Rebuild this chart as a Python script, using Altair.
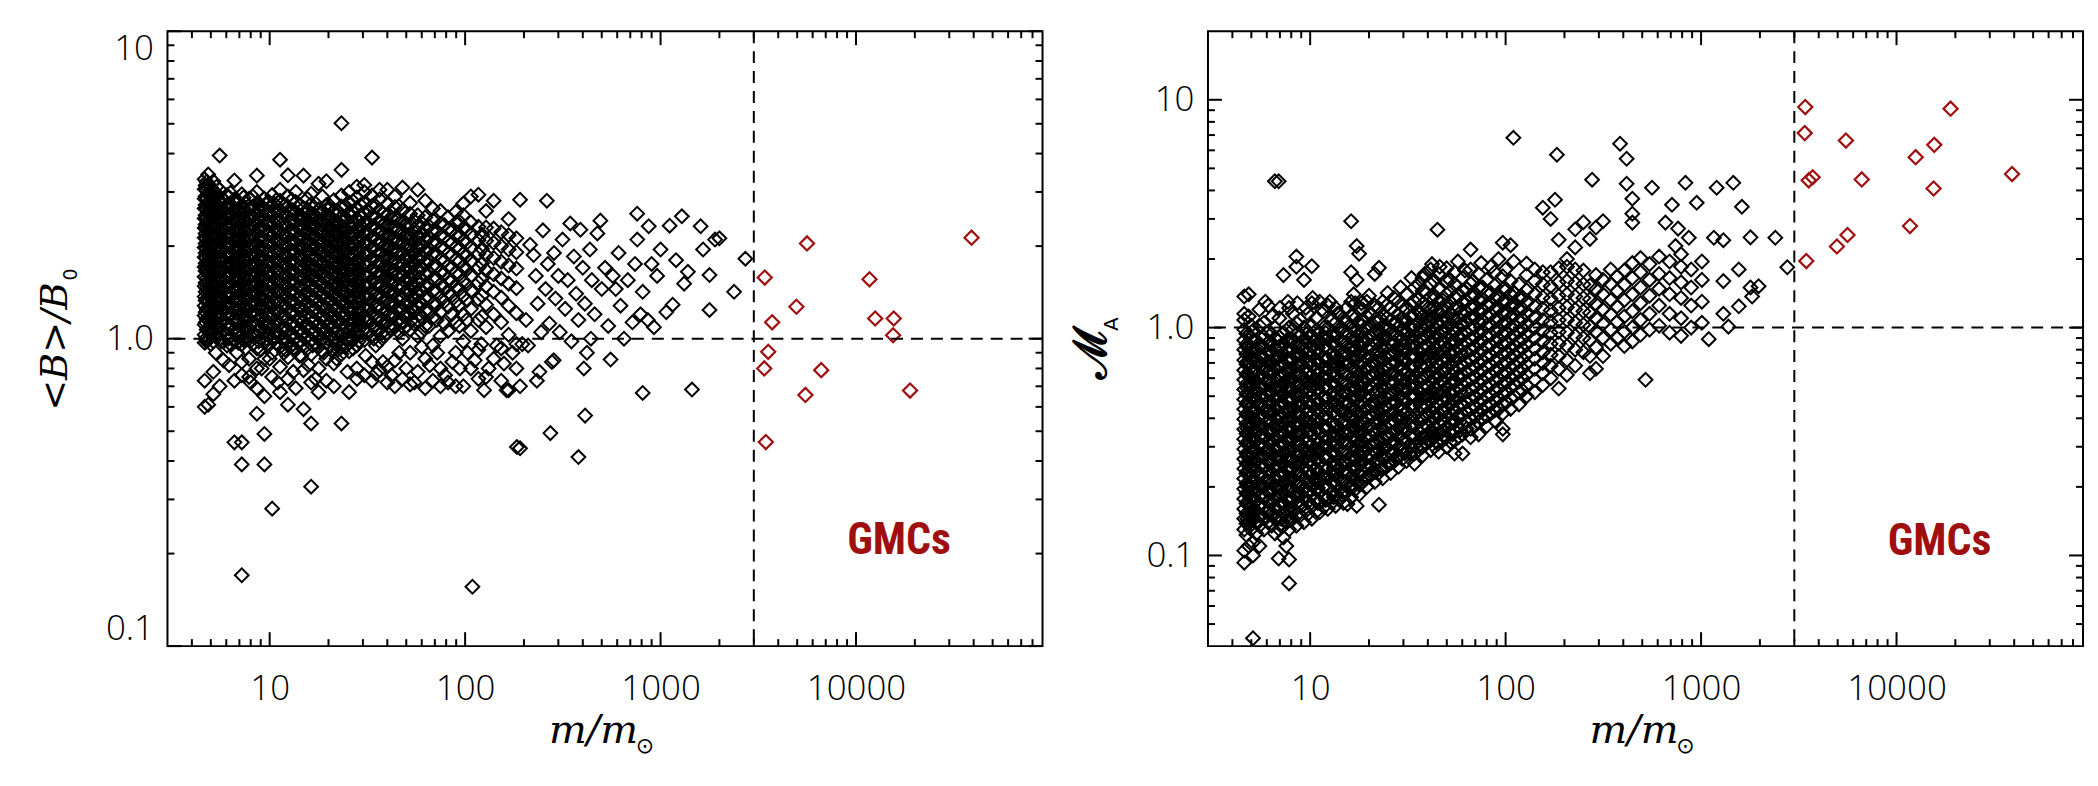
import altair as alt
import pandas as pd

# ---------------- axes / ticks ----------------
X_DOMAIN = [3, 90000]
LEFT_Y_DOMAIN = [0.1, 10]
RIGHT_Y_DOMAIN = [0.04, 20]
X_LABELS = [10, 100, 1000, 10000]
X_MAJOR = [10, 100, 1000, 10000]
X_MINOR = [4, 5, 6, 7, 8, 9, 20, 30, 40, 50, 60, 70, 80, 90,
           200, 300, 400, 500, 600, 700, 800, 900,
           2000, 3000, 4000, 5000, 6000, 7000, 8000, 9000,
           20000, 30000, 40000, 50000, 60000, 70000, 80000]
Y_LABELS = [0.1, 1, 10]
LEFT_Y_MINOR = [0.2, 0.3, 0.4, 0.5, 0.6, 0.7, 0.8, 0.9, 2, 3, 4, 5, 6, 7, 8, 9]
RIGHT_Y_MINOR = [0.05, 0.06, 0.07, 0.08, 0.09, 0.2, 0.3, 0.4, 0.5, 0.6, 0.7, 0.8, 0.9,
                 2, 3, 4, 5, 6, 7, 8, 9]

# ---------------- GMCs (red) ----------------
GMC_M = [3413, 3392, 3455, 5614, 5510, 3724, 4955, 3555, 6640, 11720, 12530, 15600, 15480, 18900, 39000]
GMC_B = [1.58, 0.80, 0.461, 2.04, 0.656, 1.13, 1.27, 0.906, 0.79, 1.56, 1.163, 1.163, 1.026, 0.678, 2.13]
GMC_MA = [9.29, 7.14, 1.96, 2.55, 6.62, 4.57, 2.27, 4.43, 4.47, 2.79, 5.60, 6.34, 4.08, 9.14, 4.72]

# ---------------- left panel: <B>/B0 (black) ----------------
LEFT_COLUMNS = [
    (4.65, [0.60, 0.73, 0.97, 1.03, 1.11, 1.19, 1.28, 1.37, 1.48, 1.59, 1.71, 1.84, 1.98, 2.13, 2.29, 2.46, 2.65, 2.85, 3.06, 3.3]),
    (4.85, [0.61, 0.99, 1.07, 1.15, 1.24, 1.33, 1.43, 1.54, 1.65, 1.78, 1.91, 2.06, 2.21, 2.38, 2.56, 2.75, 2.96, 3.18, 3.42]),
    (5.15, [0.66, 0.78, 0.98, 1.05, 1.13, 1.22, 1.31, 1.41, 1.51, 1.63, 1.75, 1.88, 2.02, 2.17, 2.34, 2.51, 2.70, 2.91, 3.25]),
    (5.55, [0.70, 1.0, 1.09, 1.17, 1.26, 1.36, 1.46, 1.57, 1.69, 1.82, 1.96, 2.1, 2.26, 2.43, 2.62, 2.82, 3.05, 3.94]),
    (6.05, [0.95, 1.03, 1.12, 1.21, 1.3, 1.4, 1.51, 1.63, 1.75, 1.88, 2.03, 2.18, 2.35, 2.53, 2.72, 2.93]),
    (6.6, [0.46, 0.73, 0.98, 1.07, 1.16, 1.25, 1.35, 1.45, 1.57, 1.69, 1.82, 1.96, 2.11, 2.27, 2.45, 2.64, 2.84, 3.27]),
    (7.2, [0.17, 0.39, 0.46, 0.76, 0.84, 0.96, 1.03, 1.11, 1.2, 1.29, 1.39, 1.5, 1.61, 1.74, 1.87, 2.02, 2.17, 2.34, 2.52, 2.71, 2.95]),
    (7.85, [0.75, 0.86, 1.0, 1.08, 1.16, 1.25, 1.35, 1.45, 1.56, 1.68, 1.81, 1.95, 2.1, 2.26, 2.44, 2.63, 2.85]),
    (8.6, [0.57, 0.69, 0.8, 0.93, 1.02, 1.11, 1.2, 1.3, 1.4, 1.51, 1.63, 1.76, 1.9, 2.04, 2.2, 2.37, 2.56, 2.76, 3.0, 3.39]),
    (9.4, [0.39, 0.49, 0.65, 0.86, 0.97, 1.05, 1.14, 1.24, 1.34, 1.44, 1.56, 1.68, 1.81, 1.95, 2.1, 2.26, 2.44, 2.63, 2.85]),
    (10.3, [0.28, 0.75, 0.9, 1.0, 1.09, 1.18, 1.28, 1.38, 1.49, 1.6, 1.73, 1.86, 2.01, 2.16, 2.33, 2.51, 2.71, 2.93]),
    (11.3, [0.67, 0.81, 0.94, 1.03, 1.12, 1.22, 1.32, 1.43, 1.54, 1.66, 1.79, 1.93, 2.08, 2.24, 2.42, 2.61, 2.81, 3.05, 3.82]),
    (12.4, [0.61, 0.74, 0.87, 0.98, 1.07, 1.16, 1.26, 1.36, 1.47, 1.59, 1.71, 1.84, 1.99, 2.14, 2.31, 2.49, 2.69, 2.9, 3.4]),
    (13.6, [0.69, 0.92, 1.01, 1.1, 1.2, 1.3, 1.41, 1.52, 1.64, 1.77, 1.91, 2.06, 2.22, 2.39, 2.58, 2.78, 3.0]),
    (14.9, [0.59, 0.79, 0.96, 1.05, 1.14, 1.24, 1.34, 1.45, 1.57, 1.69, 1.82, 1.97, 2.12, 2.29, 2.47, 2.66, 3.39]),
    (16.3, [0.33, 0.53, 0.72, 0.89, 0.99, 1.08, 1.17, 1.27, 1.38, 1.49, 1.61, 1.74, 1.88, 2.02, 2.18, 2.35, 2.54, 2.74, 2.96]),
    (17.8, [0.67, 0.8, 0.94, 1.03, 1.12, 1.22, 1.32, 1.43, 1.55, 1.67, 1.8, 1.94, 2.1, 2.26, 2.44, 2.63, 3.19]),
    (19.5, [0.73, 0.86, 0.97, 1.06, 1.16, 1.26, 1.36, 1.47, 1.59, 1.72, 1.86, 2.0, 2.16, 2.33, 2.52, 2.72, 3.25]),
    (21.3, [0.7, 0.83, 0.92, 0.99, 1.09, 1.19, 1.29, 1.4, 1.52, 1.64, 1.77, 1.91, 2.07, 2.23, 2.41, 2.6, 2.82]),
    (23.3, [0.53, 0.89, 0.94, 1.02, 1.12, 1.22, 1.33, 1.44, 1.56, 1.69, 1.83, 1.98, 2.14, 2.31, 2.49, 2.69, 2.92, 3.54, 5.02]),
    (25.5, [0.67, 0.91, 0.97, 1.06, 1.16, 1.26, 1.37, 1.49, 1.61, 1.74, 1.88, 2.03, 2.2, 2.37, 2.56, 2.77, 3.0]),
    (27.9, [0.8, 0.95, 1.03, 1.11, 1.21, 1.31, 1.42, 1.54, 1.67, 1.8, 1.95, 2.11, 2.28, 2.46, 2.66, 2.88, 3.12]),
    (30.5, [0.76, 0.99, 1.08, 1.17, 1.27, 1.38, 1.49, 1.61, 1.74, 1.88, 2.03, 2.19, 2.37, 2.56, 2.76, 3.0, 3.16]),
    (33.4, [0.73, 0.84, 1.02, 1.12, 1.22, 1.33, 1.44, 1.56, 1.69, 1.83, 1.98, 2.14, 2.31, 2.5, 2.7, 2.92, 3.88]),
    (36.5, [0.79, 0.98, 1.07, 1.17, 1.28, 1.39, 1.51, 1.63, 1.77, 1.91, 2.07, 2.24, 2.42, 2.62, 2.84, 3.05]),
    (40.0, [0.72, 0.81, 1.04, 1.13, 1.23, 1.34, 1.46, 1.58, 1.71, 1.85, 2.0, 2.16, 2.34, 2.53, 2.74, 3.05]),
    (43.7, [0.7, 0.85, 1.09, 1.19, 1.3, 1.41, 1.53, 1.66, 1.8, 1.95, 2.11, 2.28, 2.47, 2.68, 2.9]),
    (47.8, [0.74, 1.0, 1.14, 1.25, 1.36, 1.48, 1.61, 1.75, 1.9, 2.06, 2.23, 2.41, 2.61, 3.1]),
    (52.3, [0.71, 0.9, 1.07, 1.2, 1.31, 1.43, 1.56, 1.7, 1.85, 2.0, 2.17, 2.35, 2.55, 2.76]),
    (57.2, [0.78, 1.02, 1.15, 1.27, 1.39, 1.52, 1.66, 1.81, 1.97, 2.14, 2.32, 2.52, 3.05]),
    (62.5, [0.69, 0.86, 1.1, 1.23, 1.35, 1.48, 1.62, 1.77, 1.93, 2.1, 2.28, 2.48, 2.81]),
    (68.4, [0.73, 0.95, 1.17, 1.3, 1.43, 1.57, 1.72, 1.88, 2.05, 2.23, 2.43, 2.65]),
    (74.8, [0.7, 0.8, 1.02, 1.22, 1.36, 1.5, 1.65, 1.81, 1.98, 2.16, 2.36, 2.6]),
    (81.8, [0.72, 1.06, 1.27, 1.41, 1.56, 1.72, 1.89, 2.07, 2.27, 2.48]),
    (89.5, [0.7, 0.9, 1.13, 1.32, 1.47, 1.63, 1.8, 1.98, 2.17, 2.38, 2.58]),
    (97.9, [0.7, 0.98, 1.2, 1.38, 1.54, 1.71, 1.89, 2.08, 2.29, 2.52, 2.75]),
    (107, [0.8, 1.06, 1.25, 1.43, 1.6, 1.78, 1.97, 2.17, 2.39, 2.9]),
    (117, [0.74, 0.92, 1.15, 1.34, 1.52, 1.7, 1.89, 2.09, 2.31, 2.94]),
    (128, [0.75, 1.09, 1.29, 1.48, 1.67, 1.87, 2.08, 2.3, 2.6]),
    (140, [0.86, 1.2, 1.42, 1.62, 1.83, 2.05, 2.28, 2.81]),
    (153, [0.73, 0.93, 1.13, 1.36, 1.57, 1.78, 2.0, 2.22]),
    (167, [0.68, 1.03, 1.28, 1.51, 1.73, 1.95, 2.17, 2.45]),
    (183, [0.8, 0.96, 1.21, 1.46, 1.69, 1.91, 2.12]),
    (191, [0.7, 0.44, 2.83]),
]
LEFT_COLUMNS_B = [
    (4.75, [0.98, 1.07, 1.16, 1.25, 1.35, 1.46, 1.57, 1.7, 1.83, 1.97, 2.12, 2.28, 2.46, 2.64, 2.84, 3.05, 3.24]),
    (5.0, [0.96, 1.03, 1.1, 1.2, 1.29, 1.39, 1.49, 1.61, 1.73, 1.86, 1.99, 2.14, 2.31, 2.48, 2.66, 2.88, 3.1]),
    (5.35, [1.01, 1.08, 1.18, 1.27, 1.37, 1.48, 1.6, 1.72, 1.85, 2.0, 2.15, 2.31, 2.5, 2.69, 2.9, 3.12]),
    (5.8, [0.98, 1.06, 1.15, 1.25, 1.34, 1.45, 1.56, 1.69, 1.81, 1.95, 2.1, 2.27, 2.44, 2.62, 2.83]),
    (6.3, [0.96, 1.02, 1.11, 1.2, 1.3, 1.41, 1.52, 1.64, 1.76, 1.9, 2.04, 2.2, 2.37, 2.55, 2.74, 2.98]),
    (6.9, [0.97, 1.07, 1.15, 1.24, 1.34, 1.44, 1.55, 1.67, 1.8, 1.94, 2.09, 2.25, 2.42, 2.61, 2.8]),
    (7.5, [0.93, 1.0, 1.07, 1.15, 1.25, 1.34, 1.44, 1.55, 1.66, 1.79, 1.93, 2.07, 2.23, 2.4, 2.58, 2.77]),
    (8.2, [0.96, 1.04, 1.12, 1.21, 1.3, 1.4, 1.5, 1.62, 1.74, 1.87, 2.01, 2.16, 2.32, 2.5, 2.69, 2.9]),
    (9.0, [0.92, 1.0, 1.09, 1.18, 1.28, 1.38, 1.49, 1.6, 1.72, 1.85, 1.99, 2.15, 2.32, 2.5, 2.72]),
    (9.85, [0.95, 1.03, 1.12, 1.21, 1.31, 1.42, 1.53, 1.65, 1.78, 1.91, 2.06, 2.22, 2.4, 2.58, 2.8]),
    (10.8, [0.97, 1.04, 1.13, 1.23, 1.33, 1.43, 1.55, 1.67, 1.8, 1.93, 2.08, 2.25, 2.42, 2.6, 2.82]),
    (11.85, [0.9, 0.98, 1.07, 1.17, 1.27, 1.37, 1.48, 1.6, 1.73, 1.86, 2.0, 2.16, 2.33, 2.52, 2.7]),
    (13.0, [0.95, 1.03, 1.12, 1.22, 1.32, 1.42, 1.54, 1.66, 1.79, 1.93, 2.08, 2.25, 2.43, 2.62, 2.83]),
    (14.2, [0.88, 0.98, 1.06, 1.15, 1.25, 1.36, 1.47, 1.59, 1.72, 1.85, 2.0, 2.16, 2.33, 2.51, 2.72]),
    (15.6, [0.93, 1.02, 1.11, 1.21, 1.31, 1.42, 1.54, 1.66, 1.79, 1.94, 2.09, 2.25, 2.43, 2.63, 2.85]),
    (17.0, [0.97, 1.06, 1.15, 1.25, 1.36, 1.47, 1.6, 1.72, 1.86, 2.01, 2.17, 2.35, 2.53]),
    (18.6, [0.91, 1.0, 1.09, 1.18, 1.29, 1.4, 1.51, 1.64, 1.77, 1.92, 2.07, 2.24, 2.42, 2.6, 2.9]),
    (20.4, [0.95, 1.03, 1.13, 1.23, 1.34, 1.45, 1.57, 1.7, 1.84, 1.99, 2.15, 2.32, 2.5, 2.7]),
    (22.3, [0.92, 0.97, 1.06, 1.16, 1.27, 1.38, 1.5, 1.62, 1.76, 1.9, 2.06, 2.22, 2.4, 2.6]),
    (24.4, [0.94, 1.0, 1.09, 1.2, 1.31, 1.42, 1.55, 1.68, 1.81, 1.96, 2.12, 2.29, 2.48, 2.7]),
    (26.7, [0.93, 0.99, 1.07, 1.16, 1.26, 1.37, 1.48, 1.61, 1.74, 1.88, 2.04, 2.2, 2.38, 2.58, 2.8]),
    (29.2, [1.02, 1.12, 1.22, 1.33, 1.45, 1.57, 1.7, 1.84, 1.99, 2.15, 2.33, 2.52, 2.72]),
    (31.9, [1.04, 1.14, 1.24, 1.35, 1.47, 1.6, 1.73, 1.88, 2.03, 2.2, 2.38, 2.6]),
    (34.9, [0.95, 1.07, 1.17, 1.27, 1.39, 1.51, 1.64, 1.78, 1.93, 2.09, 2.27, 2.46, 2.7]),
    (38.2, [1.02, 1.11, 1.21, 1.32, 1.44, 1.56, 1.7, 1.84, 1.99, 2.16, 2.34, 2.55]),
    (41.8, [1.08, 1.18, 1.29, 1.4, 1.52, 1.65, 1.79, 1.94, 2.1, 2.28, 2.48]),
    (45.7, [1.05, 1.15, 1.26, 1.37, 1.5, 1.63, 1.77, 1.92, 2.08, 2.26, 2.45, 2.7]),
    (50.0, [1.1, 1.2, 1.31, 1.43, 1.56, 1.7, 1.85, 2.0, 2.17, 2.36]),
    (54.7, [1.12, 1.22, 1.34, 1.46, 1.59, 1.73, 1.88, 2.04, 2.22, 2.42]),
    (59.8, [1.05, 1.17, 1.29, 1.42, 1.55, 1.69, 1.84, 2.0, 2.18, 2.38]),
    (65.4, [1.1, 1.23, 1.36, 1.5, 1.64, 1.79, 1.95, 2.13, 2.32]),
    (71.6, [1.15, 1.29, 1.42, 1.57, 1.72, 1.88, 2.05, 2.24]),
    (78.2, [1.12, 1.32, 1.47, 1.63, 1.79, 1.96, 2.14, 2.34]),
    (85.6, [1.2, 1.38, 1.54, 1.7, 1.87, 2.05, 2.25]),
    (93.6, [1.1, 1.28, 1.45, 1.62, 1.79, 1.97, 2.17, 2.4]),
    (102, [1.15, 1.33, 1.5, 1.68, 1.86, 2.05, 2.26]),
    (122, [1.18, 1.38, 1.57, 1.76, 1.96, 2.18]),
]
LEFT_COLUMNS_C = [
    (4.7, [1.0, 1.13, 1.22, 1.33, 1.42, 1.52, 1.66, 1.76, 1.9, 2.04, 2.2, 2.35, 2.52, 2.72, 2.9, 3.15]),
    (4.95, [1.05, 1.17, 1.26, 1.36, 1.5, 1.6, 1.74, 1.88, 2.01, 2.18, 2.34, 2.55, 2.7, 2.95]),
    (5.25, [1.02, 1.11, 1.24, 1.34, 1.44, 1.55, 1.67, 1.8, 1.94, 2.09, 2.24, 2.4, 2.58, 2.78, 3.0]),
    (5.65, [0.98, 1.12, 1.21, 1.32, 1.41, 1.53, 1.65, 1.77, 1.92, 2.05, 2.2, 2.38, 2.55, 2.74]),
    (6.15, [1.0, 1.08, 1.18, 1.27, 1.37, 1.48, 1.59, 1.72, 1.85, 1.99, 2.14, 2.3, 2.48, 2.67, 2.88]),
    (6.75, [1.03, 1.12, 1.21, 1.3, 1.41, 1.51, 1.62, 1.75, 1.89, 2.03, 2.19, 2.36, 2.54, 2.74]),
    (7.35, [0.99, 1.09, 1.18, 1.27, 1.37, 1.48, 1.59, 1.71, 1.84, 1.99, 2.13, 2.3, 2.47, 2.66, 2.88]),
    (8.0, [1.02, 1.11, 1.2, 1.28, 1.38, 1.49, 1.6, 1.72, 1.85, 1.98, 2.13, 2.29, 2.48, 2.67]),
    (8.8, [0.98, 1.06, 1.15, 1.25, 1.35, 1.45, 1.56, 1.69, 1.81, 1.96, 2.11, 2.27, 2.45, 2.63]),
    (9.6, [1.0, 1.09, 1.19, 1.28, 1.38, 1.5, 1.62, 1.74, 1.88, 2.02, 2.18, 2.35, 2.53, 2.73]),
    (10.55, [1.02, 1.11, 1.2, 1.3, 1.4, 1.51, 1.63, 1.76, 1.89, 2.04, 2.2, 2.37, 2.56, 2.75]),
    (11.6, [1.0, 1.09, 1.19, 1.29, 1.4, 1.51, 1.63, 1.75, 1.89, 2.03, 2.19, 2.36, 2.55, 2.76]),
    (12.7, [0.94, 1.02, 1.11, 1.21, 1.31, 1.41, 1.52, 1.64, 1.77, 1.9, 2.05, 2.21, 2.39, 2.58]),
    (13.9, [0.97, 1.06, 1.16, 1.26, 1.36, 1.47, 1.58, 1.7, 1.84, 1.98, 2.13, 2.3, 2.47, 2.66]),
    (15.2, [1.0, 1.09, 1.18, 1.28, 1.39, 1.5, 1.62, 1.75, 1.88, 2.03, 2.2, 2.37, 2.55]),
    (16.6, [0.95, 1.04, 1.13, 1.23, 1.33, 1.44, 1.56, 1.68, 1.81, 1.96, 2.12, 2.28, 2.46, 2.65]),
    (18.2, [0.98, 1.07, 1.17, 1.27, 1.38, 1.49, 1.61, 1.74, 1.88, 2.02, 2.19, 2.36, 2.55]),
    (19.9, [1.0, 1.1, 1.2, 1.3, 1.42, 1.53, 1.65, 1.78, 1.93, 2.08, 2.24, 2.42, 2.62]),
    (21.8, [0.96, 1.04, 1.14, 1.24, 1.35, 1.46, 1.58, 1.71, 1.85, 2.0, 2.16, 2.33, 2.52]),
    (23.8, [0.97, 1.06, 1.17, 1.28, 1.39, 1.5, 1.62, 1.76, 1.9, 2.05, 2.22, 2.4]),
    (26.1, [1.0, 1.11, 1.21, 1.32, 1.43, 1.55, 1.68, 1.82, 1.97, 2.13, 2.3, 2.49]),
    (28.5, [0.98, 1.07, 1.16, 1.26, 1.37, 1.49, 1.62, 1.75, 1.9, 2.06, 2.23, 2.41]),
    (31.2, [1.05, 1.14, 1.25, 1.36, 1.48, 1.61, 1.74, 1.89, 2.05, 2.22, 2.4]),
    (34.1, [1.0, 1.1, 1.2, 1.31, 1.42, 1.55, 1.68, 1.82, 1.98, 2.15, 2.33]),
    (37.3, [1.04, 1.14, 1.25, 1.36, 1.48, 1.6, 1.74, 1.89, 2.05, 2.22, 2.4]),
    (40.9, [1.1, 1.2, 1.31, 1.43, 1.55, 1.69, 1.83, 1.99, 2.16]),
    (44.7, [1.14, 1.24, 1.35, 1.47, 1.6, 1.74, 1.89, 2.05, 2.23]),
    (48.9, [1.08, 1.18, 1.29, 1.41, 1.54, 1.67, 1.82, 1.98, 2.15, 2.33]),
    (53.5, [1.15, 1.26, 1.38, 1.5, 1.63, 1.78, 1.94, 2.11]),
    (58.5, [1.2, 1.32, 1.45, 1.58, 1.72, 1.87, 2.04]),
]
LEFT_SPARSE = [
    (109, 0.156), (205, 1.15), (210, 0.95), (215, 2.02), (224, 1.87), (230, 1.6), (235, 1.3),
    (240, 0.78), (245, 1.05), (250, 2.25), (258, 1.45), (262, 2.81), (265, 1.75), (270, 1.12),
    (278, 0.84), (285, 1.9), (290, 1.35), (300, 1.6), (305, 1.05), (315, 2.1), (325, 1.25),
    (335, 1.55), (345, 2.37), (350, 0.98), (360, 1.85), (370, 1.4), (380, 1.15), (389, 2.26),
    (400, 1.7), (410, 1.3), (420, 0.9), (435, 1.95), (445, 1.55), (460, 1.2), (475, 2.2),
    (492, 2.42), (500, 1.45), (520, 1.7), (540, 1.1), (555, 0.855), (570, 1.6), (590, 1.45),
    (610, 1.9), (624, 1.28), (650, 1.0), (680, 1.55), (718, 1.13), (740, 1.75), (759, 2.55),
    (760, 2.1), (790, 1.2), (810, 1.42), (860, 1.15), (870, 2.32), (900, 1.75), (925, 1.09),
    (960, 1.6), (1000, 1.95), (1070, 1.22), (1113, 2.33), (1153, 1.29), (1200, 1.8),
    (1285, 2.5), (1320, 1.51), (1380, 1.65), (1448, 0.683), (1603, 2.32), (1650, 1.95),
    (1780, 1.61), (1780, 1.24), (1900, 2.1), (2000, 2.12), (2377, 1.42), (2716, 1.82),
    (810, 0.666), (411, 0.562), (380, 0.412), (273, 0.493), (184, 0.444), (405, 0.8),
    (440, 1.0), (284, 0.85), (233, 0.73), (163, 0.68), (125, 0.68),
]
LEFT_LOW = [
    (22, 0.86), (25, 0.78), (28, 0.74), (31, 0.88), (35, 0.77), (38, 0.84), (42, 0.76),
    (46, 0.9), (50, 0.8), (55, 0.72), (60, 0.94), (66, 0.82), (72, 0.9), (79, 0.76),
    (86, 0.84), (94, 0.8), (103, 0.9), (112, 0.85), (121, 0.96), (132, 0.8), (145, 0.95),
    (158, 0.83), (175, 0.9), (196, 0.96), (6.2, 0.82), (6.8, 0.9), (8.0, 0.72), (9.1, 0.8),
    (10.0, 0.86), (11.0, 0.72), (12.0, 0.92), (13.2, 0.78), (14.5, 0.88), (15.8, 0.82),
    (17.2, 0.74), (18.9, 0.9), (5.3, 0.9), (5.8, 0.85),
]

# ---------------- right panel: M_A (black) ----------------
RIGHT_COLUMNS = [
    (4.6, [0.093, 0.105, 0.13, 0.145, 0.16, 0.177, 0.196, 0.217, 0.24, 0.265, 0.293, 0.324, 0.358, 0.396, 0.438, 0.484, 0.535, 0.59, 0.65, 0.72, 0.8, 0.88, 0.98, 1.08, 1.15, 1.37]),
    (4.85, [0.11, 0.138, 0.152, 0.168, 0.186, 0.206, 0.228, 0.252, 0.279, 0.308, 0.34, 0.376, 0.416, 0.46, 0.508, 0.56, 0.62, 0.685, 0.76, 0.84, 0.93, 1.12, 1.4]),
    (5.1, [0.0433, 0.1, 0.114, 0.143, 0.158, 0.175, 0.194, 0.214, 0.237, 0.262, 0.29, 0.32, 0.354, 0.392, 0.433, 0.479, 0.53, 0.585, 0.647, 0.716, 0.79, 0.87, 0.97]),
    (5.5, [0.11, 0.135, 0.15, 0.166, 0.183, 0.203, 0.224, 0.248, 0.274, 0.303, 0.335, 0.37, 0.41, 0.453, 0.5, 0.553, 0.61, 0.675, 0.75, 0.83, 1.02, 1.2]),
    (6.1, [0.14, 0.155, 0.172, 0.19, 0.21, 0.233, 0.257, 0.284, 0.314, 0.347, 0.384, 0.425, 0.47, 0.52, 0.575, 0.635, 0.7, 0.78, 0.86, 0.96, 1.25]),
    (6.6, [0.125, 0.145, 0.163, 0.18, 0.2, 0.221, 0.244, 0.27, 0.298, 0.33, 0.365, 0.404, 0.447, 0.494, 0.546, 0.603, 0.667, 0.737, 0.815, 0.9, 1.0, 4.39]),
    (6.9, [4.39, 0.097]),
    (7.3, [0.12, 0.135, 0.152, 0.17, 0.188, 0.208, 0.23, 0.254, 0.281, 0.31, 0.343, 0.38, 0.42, 0.464, 0.513, 0.567, 0.627, 0.693, 0.766, 0.85, 0.95, 1.7]),
    (7.8, [0.0754, 0.096, 0.13, 0.143, 0.16, 0.178, 0.197, 0.218, 0.241, 0.266, 0.294, 0.325, 0.36, 0.398, 0.44, 0.486, 0.537, 0.594, 0.656, 0.725, 0.8, 0.89, 1.0, 1.22]),
    (8.5, [0.135, 0.15, 0.168, 0.186, 0.206, 0.228, 0.252, 0.279, 0.308, 0.34, 0.376, 0.416, 0.46, 0.508, 0.562, 0.621, 0.686, 0.76, 0.84, 0.93, 1.05, 1.85, 2.05]),
    (9.3, [0.14, 0.16, 0.178, 0.197, 0.218, 0.241, 0.266, 0.294, 0.325, 0.36, 0.398, 0.44, 0.486, 0.537, 0.594, 0.656, 0.725, 0.8, 0.89, 1.0, 1.62]),
    (10.2, [0.145, 0.165, 0.185, 0.205, 0.227, 0.251, 0.277, 0.306, 0.338, 0.374, 0.413, 0.457, 0.505, 0.558, 0.617, 0.682, 0.754, 0.834, 0.92, 1.02, 1.28, 1.86]),
    (11.2, [0.155, 0.172, 0.19, 0.21, 0.232, 0.257, 0.284, 0.314, 0.347, 0.384, 0.424, 0.469, 0.518, 0.573, 0.633, 0.7, 0.774, 0.856, 0.95, 1.3]),
    (12.3, [0.16, 0.18, 0.199, 0.22, 0.243, 0.269, 0.297, 0.328, 0.363, 0.401, 0.443, 0.49, 0.542, 0.599, 0.662, 0.732, 0.81, 0.9, 1.0, 1.25]),
    (13.5, [0.165, 0.185, 0.205, 0.227, 0.251, 0.277, 0.306, 0.338, 0.374, 0.413, 0.457, 0.505, 0.558, 0.617, 0.682, 0.754, 0.834, 0.93, 1.05, 1.22]),
    (14.8, [0.17, 0.19, 0.21, 0.232, 0.257, 0.284, 0.314, 0.347, 0.384, 0.424, 0.469, 0.518, 0.573, 0.633, 0.7, 0.774, 0.86, 0.96, 1.1]),
    (15.5, [0.168]),
    (16.2, [0.18, 0.2, 0.222, 0.245, 0.271, 0.3, 0.331, 0.366, 0.405, 0.447, 0.494, 0.546, 0.603, 0.667, 0.737, 0.815, 0.9, 1.0, 1.13, 1.3, 1.75, 2.93]),
    (17.3, [0.165, 2.28, 1.62]),
    (17.8, [0.185, 0.205, 0.228, 0.252, 0.279, 0.308, 0.34, 0.376, 0.416, 0.46, 0.508, 0.562, 0.621, 0.686, 0.76, 0.84, 0.93, 1.04, 1.2, 2.11]),
    (19.5, [0.2, 0.222, 0.245, 0.271, 0.3, 0.331, 0.366, 0.405, 0.447, 0.494, 0.546, 0.603, 0.667, 0.737, 0.815, 0.9, 1.0, 1.12, 1.3]),
    (21.4, [0.21, 0.232, 0.257, 0.284, 0.314, 0.347, 0.384, 0.424, 0.469, 0.518, 0.573, 0.633, 0.7, 0.774, 0.86, 0.96, 1.08, 1.25, 1.72]),
    (22.5, [0.167, 1.83]),
    (23.5, [0.218, 0.241, 0.266, 0.294, 0.325, 0.36, 0.398, 0.44, 0.486, 0.537, 0.594, 0.656, 0.725, 0.8, 0.89, 1.0, 1.14, 1.3]),
    (25.8, [0.23, 0.254, 0.281, 0.31, 0.343, 0.38, 0.42, 0.464, 0.513, 0.567, 0.627, 0.693, 0.766, 0.85, 0.95, 1.07, 1.22]),
    (28.3, [0.245, 0.27, 0.298, 0.33, 0.365, 0.404, 0.447, 0.494, 0.546, 0.603, 0.667, 0.737, 0.815, 0.9, 1.0, 1.13, 1.3]),
    (31.1, [0.26, 0.286, 0.316, 0.35, 0.387, 0.428, 0.473, 0.523, 0.578, 0.639, 0.706, 0.78, 0.862, 0.95, 1.06, 1.2, 1.4]),
    (34.2, [0.253, 0.28, 0.305, 0.336, 0.372, 0.411, 0.454, 0.502, 0.555, 0.613, 0.678, 0.75, 0.83, 0.92, 1.02, 1.14, 1.3, 1.5]),
    (37.6, [0.275, 0.3, 0.33, 0.365, 0.404, 0.447, 0.494, 0.546, 0.603, 0.667, 0.737, 0.815, 0.9, 1.0, 1.12, 1.27, 1.45, 1.65]),
    (41.3, [0.29, 0.32, 0.353, 0.39, 0.431, 0.476, 0.526, 0.582, 0.643, 0.711, 0.786, 0.87, 0.96, 1.07, 1.2, 1.36, 1.55, 1.8]),
    (44.8, [2.69]),
    (45.4, [0.285, 0.31, 0.343, 0.38, 0.42, 0.464, 0.513, 0.567, 0.627, 0.693, 0.766, 0.85, 0.94, 1.04, 1.16, 1.3, 1.48, 1.72]),
    (49.9, [0.3, 0.33, 0.365, 0.404, 0.447, 0.494, 0.546, 0.603, 0.667, 0.737, 0.815, 0.9, 1.0, 1.11, 1.24, 1.4, 1.6, 1.82]),
    (54.8, [0.28, 0.32, 0.354, 0.392, 0.433, 0.479, 0.53, 0.585, 0.647, 0.716, 0.79, 0.875, 0.97, 1.08, 1.21, 1.36, 1.55, 1.75]),
    (60.2, [0.28, 0.34, 0.376, 0.416, 0.46, 0.508, 0.562, 0.621, 0.686, 0.76, 0.84, 0.93, 1.03, 1.15, 1.29, 1.45, 1.65]),
    (66.2, [0.33, 0.36, 0.398, 0.44, 0.486, 0.537, 0.594, 0.656, 0.725, 0.8, 0.89, 0.99, 1.1, 1.23, 1.38, 1.56, 1.8, 2.2]),
    (72.8, [0.34, 0.42, 0.384, 0.424, 0.469, 0.518, 0.573, 0.633, 0.7, 0.774, 0.86, 0.95, 1.06, 1.18, 1.32, 1.5, 1.72]),
    (80, [0.37, 0.41, 0.453, 0.5, 0.553, 0.61, 0.675, 0.75, 0.83, 0.92, 1.02, 1.13, 1.26, 1.42, 1.62]),
    (88, [0.39, 0.434, 0.48, 0.53, 0.585, 0.647, 0.716, 0.79, 0.875, 0.97, 1.08, 1.2, 1.35, 1.53, 1.75]),
    (96.7, [0.36, 0.34, 0.42, 0.464, 0.513, 0.567, 0.627, 0.693, 0.766, 0.85, 0.94, 1.04, 1.16, 1.3, 1.48, 1.68, 2.36]),
    (106, [0.44, 0.49, 0.545, 0.6, 0.665, 0.735, 0.81, 0.9, 1.0, 1.11, 1.24, 1.4, 1.6, 2.3]),
    (109.6, [6.81]),
    (117, [0.46, 0.52, 0.58, 0.64, 0.71, 0.785, 0.87, 0.96, 1.07, 1.2, 1.35, 1.55]),
    (128, [0.5, 0.56, 0.62, 0.69, 0.76, 0.84, 0.93, 1.03, 1.15, 1.29, 1.46, 1.7, 1.91]),
    (141, [0.52, 0.59, 0.66, 0.73, 0.81, 0.9, 1.0, 1.11, 1.24, 1.4, 1.6, 1.8]),
    (155, [0.56, 0.63, 0.7, 0.78, 0.87, 0.97, 1.08, 1.21, 1.36, 1.55, 1.75, 3.36]),
    (170, [0.6, 0.68, 0.76, 0.85, 0.95, 1.06, 1.19, 1.34, 1.52, 1.75, 3.0]),
    (179, [3.64]),
    (183, [5.74]),
    (187, [0.54, 0.66, 0.75, 0.85, 0.96, 1.08, 1.22, 1.38, 1.58, 1.82, 2.43]),
    (206, [0.62, 0.72, 0.83, 0.95, 1.08, 1.23, 1.4, 1.6, 1.85, 2.0]),
    (227, [0.68, 0.8, 0.92, 1.05, 1.2, 1.37, 1.57, 1.8, 2.25, 2.7]),
    (250, [0.78, 0.9, 1.03, 1.18, 1.35, 1.55, 1.78, 2.9]),
    (270, [0.63, 0.75, 0.88, 1.01, 1.16, 1.33, 1.53, 2.45]),
    (277, [4.46]),
    (290, [0.66, 0.82, 0.96, 1.1, 1.27, 1.47, 1.7, 2.75]),
    (315, [0.75, 0.9, 1.04, 1.2, 1.4, 1.62, 2.93]),
    (345, [0.85, 0.98, 1.14, 1.32, 1.55, 1.8]),
    (372, [0.9, 1.06, 1.24, 1.45, 1.68]),
    (385, [6.41]),
    (405, [0.83, 0.96, 1.12, 1.32, 1.54, 1.78]),
    (416, [5.51, 4.28]),
    (445, [0.87, 1.0, 1.18, 1.4, 1.65, 1.92, 3.68, 3.16, 2.89]),
    (490, [0.93, 1.08, 1.28, 1.5, 1.75, 2.02]),
    (520, [0.59]),
    (545, [0.98, 1.15, 1.38, 1.62, 1.9]),
    (561, [4.11]),
    (610, [1.02, 1.25, 1.48, 1.72, 2.05]),
    (657, [2.89]),
    (690, [0.95, 1.15, 1.4, 1.65, 1.95]),
    (710, [3.46]),
    (740, [2.28]),
    (763, [2.72]),
    (790, [0.92, 1.1, 1.35, 1.58, 1.85, 2.1]),
    (832, [4.32]),
    (866, [2.48]),
    (890, [1.0, 1.25, 1.5, 1.8]),
    (950, [3.53]),
    (1010, [1.05, 1.3, 1.62, 1.95]),
    (1095, [0.89]),
    (1163, [2.48]),
    (1202, [4.11]),
    (1300, [2.42, 1.6, 1.15]),
    (1380, [1.01]),
    (1462, [4.32]),
    (1560, [1.24, 1.8]),
    (1618, [3.39]),
    (1790, [2.49, 1.5]),
    (1825, [1.37]),
    (1970, [1.52]),
    (2399, [2.48]),
    (2762, [1.84]),
]
RIGHT_COLUMNS_B = [
    (4.72, [0.123, 0.138, 0.153, 0.169, 0.187, 0.207, 0.229, 0.253, 0.28, 0.31, 0.342, 0.378, 0.418, 0.462, 0.51, 0.565, 0.625, 0.69, 0.765, 0.845, 0.94]),
    (4.98, [0.13, 0.145, 0.162, 0.18, 0.2, 0.221, 0.245, 0.27, 0.299, 0.331, 0.366, 0.404, 0.447, 0.494, 0.546, 0.604, 0.668, 0.738, 0.815, 0.9, 1.02]),
    (5.3, [0.125, 0.141, 0.157, 0.174, 0.193, 0.213, 0.236, 0.261, 0.289, 0.319, 0.353, 0.39, 0.431, 0.477, 0.527, 0.583, 0.644, 0.712, 0.79, 0.88]),
    (5.8, [0.13, 0.147, 0.163, 0.181, 0.2, 0.221, 0.245, 0.271, 0.3, 0.331, 0.366, 0.405, 0.448, 0.495, 0.547, 0.605, 0.669, 0.74, 0.82, 0.91, 1.05]),
    (6.35, [0.135, 0.152, 0.17, 0.189, 0.209, 0.231, 0.256, 0.283, 0.313, 0.346, 0.382, 0.423, 0.467, 0.517, 0.571, 0.632, 0.698, 0.772, 0.853, 0.94]),
    (6.95, [0.13, 0.148, 0.165, 0.183, 0.202, 0.224, 0.247, 0.273, 0.302, 0.334, 0.37, 0.409, 0.452, 0.5, 0.552, 0.61, 0.675, 0.746, 0.825, 0.91, 1.1]),
    (7.55, [0.11, 0.142, 0.158, 0.176, 0.195, 0.215, 0.238, 0.263, 0.291, 0.322, 0.356, 0.393, 0.435, 0.481, 0.531, 0.587, 0.649, 0.718, 0.793, 0.877, 0.97]),
    (8.15, [0.145, 0.16, 0.177, 0.196, 0.217, 0.24, 0.265, 0.293, 0.324, 0.358, 0.396, 0.438, 0.484, 0.535, 0.591, 0.654, 0.723, 0.8, 0.88, 0.98, 1.15]),
    (8.9, [0.15, 0.168, 0.187, 0.207, 0.229, 0.253, 0.28, 0.309, 0.342, 0.378, 0.418, 0.462, 0.511, 0.565, 0.624, 0.69, 0.763, 0.843, 0.93, 1.08]),
    (9.75, [0.152, 0.172, 0.191, 0.211, 0.234, 0.258, 0.286, 0.316, 0.349, 0.386, 0.427, 0.472, 0.522, 0.577, 0.638, 0.705, 0.78, 0.862, 0.95, 1.15]),
    (10.7, [0.155, 0.176, 0.195, 0.216, 0.239, 0.264, 0.292, 0.323, 0.357, 0.395, 0.436, 0.482, 0.533, 0.589, 0.651, 0.72, 0.796, 0.88, 0.97, 1.1]),
    (11.75, [0.163, 0.181, 0.2, 0.221, 0.245, 0.27, 0.299, 0.33, 0.365, 0.404, 0.446, 0.493, 0.545, 0.603, 0.666, 0.737, 0.815, 0.9, 1.0, 1.18]),
    (12.9, [0.17, 0.189, 0.209, 0.231, 0.256, 0.283, 0.312, 0.345, 0.382, 0.422, 0.467, 0.516, 0.57, 0.63, 0.697, 0.77, 0.852, 0.94, 1.08]),
    (14.1, [0.175, 0.195, 0.216, 0.239, 0.264, 0.292, 0.323, 0.357, 0.395, 0.436, 0.482, 0.533, 0.589, 0.651, 0.72, 0.796, 0.88, 0.98, 1.15]),
    (15.4, [0.19, 0.21, 0.233, 0.257, 0.284, 0.314, 0.347, 0.384, 0.424, 0.469, 0.518, 0.573, 0.633, 0.7, 0.774, 0.856, 0.95, 1.06, 1.22]),
    (17.0, [0.195, 0.215, 0.238, 0.263, 0.291, 0.322, 0.356, 0.393, 0.435, 0.481, 0.531, 0.587, 0.649, 0.718, 0.793, 0.877, 0.97, 1.1, 1.28]),
    (18.6, [0.21, 0.232, 0.257, 0.284, 0.314, 0.347, 0.384, 0.424, 0.469, 0.518, 0.573, 0.633, 0.7, 0.774, 0.856, 0.95, 1.06, 1.2]),
    (20.4, [0.225, 0.249, 0.275, 0.304, 0.336, 0.371, 0.41, 0.453, 0.501, 0.554, 0.612, 0.677, 0.748, 0.827, 0.915, 1.02, 1.15]),
    (22.4, [0.23, 0.262, 0.29, 0.32, 0.354, 0.391, 0.432, 0.478, 0.528, 0.584, 0.645, 0.713, 0.788, 0.871, 0.96, 1.07, 1.22]),
    (24.6, [0.245, 0.27, 0.298, 0.33, 0.365, 0.404, 0.447, 0.494, 0.546, 0.603, 0.667, 0.737, 0.815, 0.9, 1.0, 1.1, 1.25]),
    (27.0, [0.26, 0.285, 0.315, 0.348, 0.385, 0.425, 0.47, 0.52, 0.575, 0.635, 0.702, 0.776, 0.858, 0.95, 1.05, 1.18]),
    (29.6, [0.265, 0.295, 0.326, 0.36, 0.398, 0.44, 0.486, 0.537, 0.594, 0.656, 0.725, 0.8, 0.89, 0.98, 1.09, 1.24]),
    (32.6, [0.28, 0.305, 0.336, 0.371, 0.41, 0.453, 0.501, 0.554, 0.612, 0.677, 0.748, 0.827, 0.915, 1.01, 1.12, 1.27]),
    (35.9, [0.29, 0.318, 0.35, 0.387, 0.428, 0.473, 0.523, 0.578, 0.639, 0.706, 0.78, 0.862, 0.953, 1.05, 1.17, 1.33, 1.55]),
    (39.4, [0.31, 0.335, 0.37, 0.409, 0.452, 0.5, 0.552, 0.61, 0.675, 0.746, 0.825, 0.91, 1.01, 1.12, 1.25, 1.42]),
    (43.3, [0.3, 0.33, 0.364, 0.402, 0.445, 0.491, 0.543, 0.6, 0.664, 0.734, 0.811, 0.896, 0.99, 1.1, 1.23, 1.38, 1.6]),
    (47.6, [0.32, 0.352, 0.389, 0.43, 0.475, 0.525, 0.58, 0.641, 0.709, 0.783, 0.866, 0.957, 1.06, 1.18, 1.32]),
    (52.3, [0.315, 0.345, 0.38, 0.42, 0.464, 0.513, 0.567, 0.627, 0.693, 0.766, 0.847, 0.936, 1.04, 1.15, 1.29, 1.45]),
    (57.5, [0.33, 0.365, 0.403, 0.446, 0.493, 0.545, 0.602, 0.665, 0.735, 0.813, 0.899, 0.99, 1.1, 1.22, 1.37]),
    (63.2, [0.36, 0.388, 0.429, 0.474, 0.524, 0.579, 0.64, 0.707, 0.782, 0.864, 0.955, 1.06, 1.17, 1.31, 1.48]),
    (69.5, [0.37, 0.405, 0.448, 0.495, 0.547, 0.605, 0.668, 0.739, 0.816, 0.902, 1.0, 1.1, 1.23, 1.38]),
    (76.4, [0.4, 0.435, 0.481, 0.531, 0.587, 0.649, 0.717, 0.793, 0.876, 0.968, 1.07, 1.19, 1.33, 1.5]),
    (84.0, [0.42, 0.46, 0.508, 0.562, 0.621, 0.686, 0.759, 0.838, 0.927, 1.02, 1.14, 1.27, 1.42]),
    (92.3, [0.44, 0.49, 0.54, 0.597, 0.66, 0.73, 0.806, 0.891, 0.985, 1.09, 1.21, 1.36]),
    (101, [0.47, 0.52, 0.575, 0.636, 0.703, 0.777, 0.859, 0.949, 1.05, 1.16, 1.3, 1.47]),
    (111, [0.5, 0.56, 0.62, 0.685, 0.757, 0.837, 0.925, 1.02, 1.13, 1.26, 1.42]),
    (122, [0.53, 0.6, 0.66, 0.73, 0.81, 0.89, 0.99, 1.09, 1.21, 1.36]),
]
RIGHT_COLUMNS_C = [
    (4.78, [0.145, 0.172, 0.2, 0.235, 0.272, 0.315, 0.36, 0.41, 0.47, 0.54, 0.62, 0.71, 0.82]),
    (5.05, [0.15, 0.178, 0.208, 0.243, 0.28, 0.325, 0.372, 0.425, 0.49, 0.56, 0.64, 0.74]),
    (5.42, [0.14, 0.165, 0.195, 0.228, 0.265, 0.305, 0.35, 0.4, 0.46, 0.525, 0.6, 0.69, 0.8]),
    (5.95, [0.155, 0.182, 0.213, 0.248, 0.288, 0.332, 0.382, 0.44, 0.505, 0.58, 0.665, 0.76]),
    (6.5, [0.15, 0.175, 0.205, 0.24, 0.278, 0.32, 0.37, 0.425, 0.487, 0.56, 0.64, 0.73, 0.84]),
    (7.1, [0.145, 0.17, 0.198, 0.23, 0.268, 0.31, 0.357, 0.41, 0.47, 0.54, 0.62, 0.71, 0.82]),
    (7.7, [0.15, 0.176, 0.205, 0.238, 0.276, 0.32, 0.368, 0.423, 0.485, 0.556, 0.637, 0.73]),
    (8.35, [0.158, 0.184, 0.214, 0.248, 0.287, 0.332, 0.382, 0.44, 0.505, 0.58, 0.665, 0.76, 0.87]),
    (9.1, [0.165, 0.192, 0.222, 0.257, 0.297, 0.343, 0.395, 0.455, 0.522, 0.6, 0.688, 0.79]),
    (10.0, [0.168, 0.195, 0.226, 0.262, 0.303, 0.35, 0.403, 0.463, 0.532, 0.61, 0.7, 0.8, 0.91]),
    (10.95, [0.17, 0.198, 0.23, 0.266, 0.308, 0.355, 0.41, 0.47, 0.54, 0.62, 0.712, 0.815]),
    (12.0, [0.175, 0.203, 0.235, 0.272, 0.314, 0.362, 0.417, 0.48, 0.55, 0.632, 0.725, 0.83, 0.95]),
    (13.2, [0.18, 0.209, 0.242, 0.28, 0.323, 0.372, 0.428, 0.492, 0.565, 0.648, 0.743, 0.85]),
    (14.45, [0.185, 0.214, 0.248, 0.287, 0.331, 0.381, 0.438, 0.503, 0.577, 0.661, 0.758, 0.87, 1.0]),
    (15.8, [0.2, 0.23, 0.266, 0.307, 0.354, 0.407, 0.468, 0.537, 0.616, 0.706, 0.81, 0.93]),
    (17.4, [0.21, 0.242, 0.279, 0.322, 0.371, 0.426, 0.489, 0.561, 0.643, 0.737, 0.845, 0.97]),
    (19.0, [0.215, 0.248, 0.286, 0.33, 0.38, 0.436, 0.5, 0.573, 0.657, 0.752, 0.86, 0.99]),
    (20.9, [0.235, 0.27, 0.31, 0.357, 0.41, 0.47, 0.54, 0.618, 0.708, 0.81, 0.93]),
    (23.0, [0.24, 0.276, 0.317, 0.365, 0.42, 0.482, 0.553, 0.634, 0.726, 0.83, 0.95, 1.09]),
    (25.2, [0.25, 0.288, 0.331, 0.38, 0.437, 0.501, 0.575, 0.659, 0.754, 0.862, 0.99]),
    (27.7, [0.27, 0.31, 0.356, 0.408, 0.468, 0.537, 0.615, 0.704, 0.805, 0.92, 1.05]),
    (30.4, [0.28, 0.32, 0.367, 0.42, 0.482, 0.552, 0.632, 0.723, 0.827, 0.945, 1.08]),
    (33.4, [0.29, 0.333, 0.382, 0.438, 0.502, 0.575, 0.658, 0.753, 0.86, 0.98, 1.12]),
    (36.7, [0.3, 0.345, 0.395, 0.453, 0.519, 0.594, 0.68, 0.778, 0.89, 1.01, 1.16]),
    (40.3, [0.32, 0.366, 0.419, 0.48, 0.55, 0.629, 0.72, 0.823, 0.94, 1.07, 1.22]),
    (44.3, [0.315, 0.36, 0.412, 0.472, 0.54, 0.618, 0.707, 0.808, 0.923, 1.05, 1.2]),
    (48.7, [0.33, 0.378, 0.432, 0.494, 0.565, 0.646, 0.738, 0.843, 0.963, 1.1, 1.25]),
    (53.5, [0.34, 0.39, 0.446, 0.51, 0.583, 0.666, 0.761, 0.869, 0.99, 1.13]),
    (58.8, [0.355, 0.405, 0.463, 0.529, 0.604, 0.69, 0.788, 0.9, 1.03, 1.17]),
]
RIGHT_TOP = [
    (5.9, 1.3), (6.4, 1.12), (7.0, 1.22), (7.7, 1.3), (8.6, 1.28), (9.5, 1.22), (10.3, 1.35),
    (11.5, 1.2), (12.6, 1.3), (13.8, 1.15), (16.7, 1.4), (18.3, 1.28), (20.0, 1.38),
    (24.9, 1.42), (26.8, 1.35), (29.0, 1.5), (33.0, 1.65), (38.5, 1.72), (42, 1.9), (46, 1.85),
    (52, 1.62), (57, 1.95), (62, 1.78), (68, 1.6), (75, 1.92), (84, 1.85), (92, 2.0),
    (100, 1.8), (110, 1.95),
]


# ---------------- build tables ----------------
def columns_to_df(col_sets, extras=()):
    rows = [{"m": m, "v": v} for cols in col_sets for m, vals in cols for v in vals]
    rows += [{"m": m, "v": v} for pts in extras for m, v in pts]
    return pd.DataFrame(rows)


left_black = columns_to_df([LEFT_COLUMNS, LEFT_COLUMNS_B, LEFT_COLUMNS_C], [LEFT_SPARSE, LEFT_LOW])
right_black = columns_to_df([RIGHT_COLUMNS, RIGHT_COLUMNS_B, RIGHT_COLUMNS_C], [RIGHT_TOP])
left_red = pd.DataFrame({"m": GMC_M, "v": GMC_B})
right_red = pd.DataFrame({"m": GMC_M, "v": GMC_MA})

W, H = 878, 617
RED = "#a00f0f"
LABEL_FONT = "Open Sans"
MATH_FONT = "DejaVu Serif"
MAJOR_LEN, MINOR_LEN = 14, 7


def small_text(txt, x, y, size, angle=0, font="DejaVu Sans"):
    return alt.Chart(pd.DataFrame({"k": [0]})).mark_text(
        text=txt, font=font, fontSize=size, color="black", angle=angle,
        align="center", baseline="middle").encode(x=alt.value(x), y=alt.value(y))


def panel(black, red, ydomain, yminor, ytitle, ytitle_x, ytitle_y, ytitle_size, ytitle_style,
          ytitle_weight, flush, gmc_y, extra_text):
    xs = alt.Scale(type="log", domain=X_DOMAIN, nice=False)
    ys = alt.Scale(type="log", domain=ydomain, nice=False)
    xaxis = alt.Axis(values=X_LABELS, format="d", ticks=False, tickSize=0, domain=False, grid=False,
                     labelFont=LABEL_FONT, labelFontSize=35, labelFontWeight=300, labelColor="black",
                     labelBaseline="alphabetic", labelPadding=54,
                     title="m/m", titleFont=MATH_FONT, titleFontStyle="italic", titleFontWeight="normal",
                     titleFontSize=40, titleColor="black", titleX=W / 2 - 12, titleY=97,
                     titleAlign="center", titleBaseline="alphabetic")
    yaxis = alt.Axis(values=Y_LABELS,
                     labelExpr="datum.value == 10 ? '10' : format(datum.value, '.1f')",
                     ticks=False, tickSize=0, domain=False, grid=False,
                     labelFont=LABEL_FONT, labelFontSize=35, labelFontWeight=300, labelColor="black",
                     labelPadding=14, labelFlush=flush,
                     title=ytitle, titleFont=MATH_FONT, titleFontStyle=ytitle_style,
                     titleFontWeight=ytitle_weight,
                     titleFontSize=ytitle_size, titleColor="black", titleAngle=270,
                     titleX=ytitle_x, titleY=ytitle_y, titleAlign="center", titleBaseline="alphabetic")

    def X(field):
        return alt.X(field, scale=xs, axis=xaxis)

    def Y(field):
        return alt.Y(field, scale=ys, axis=yaxis)

    pts = alt.Chart(black).mark_point(shape="diamond", filled=False, color="black",
                                      strokeWidth=2, size=190, opacity=1).encode(x=X("m:Q"), y=Y("v:Q"))
    reds = alt.Chart(red).mark_point(shape="diamond", filled=False, color=RED,
                                     strokeWidth=2.2, size=200, opacity=1).encode(x=X("m:Q"), y=Y("v:Q"))

    hline = alt.Chart(pd.DataFrame({"v": [1.0]})).mark_rule(
        color="black", strokeWidth=2, strokeDash=[12, 8]).encode(y=Y("v:Q"))
    vline = alt.Chart(pd.DataFrame({"m": [3000]})).mark_rule(
        color="black", strokeWidth=2, strokeDash=[12, 8]).encode(x=X("m:Q"))

    def xt(vals, length, top):
        return alt.Chart(pd.DataFrame({"m": vals})).mark_rule(color="black", strokeWidth=2).encode(
            x=X("m:Q"), y=alt.value(0 if top else H), y2=alt.value(length if top else H - length))

    def yt(vals, length, right):
        return alt.Chart(pd.DataFrame({"v": vals})).mark_rule(color="black", strokeWidth=2).encode(
            y=Y("v:Q"), x=alt.value(W if right else 0), x2=alt.value(W - length if right else length))

    ticks = [xt(X_MAJOR, MAJOR_LEN, False), xt(X_MINOR, MINOR_LEN, False),
             xt(X_MAJOR, MAJOR_LEN, True), xt(X_MINOR, MINOR_LEN, True),
             yt(Y_LABELS, MAJOR_LEN, False), yt(yminor, MINOR_LEN, False),
             yt(Y_LABELS, MAJOR_LEN, True), yt(yminor, MINOR_LEN, True)]

    gmc = alt.Chart(pd.DataFrame({"m": [16600], "v": [gmc_y]})).mark_text(
        text="GMCs", font="Liberation Sans Narrow, Roboto Condensed, Roboto", fontWeight="bold",
        fontSize=44, color=RED, align="center", baseline="middle").encode(x=X("m:Q"), y=Y("v:Q"))

    sun = small_text("⊙", 479, H + 100, 22)

    layers = [pts, reds, hline, vline] + ticks + [gmc, sun] + extra_text
    return alt.layer(*layers).properties(width=W, height=H)


left = panel(left_black, left_red, LEFT_Y_DOMAIN, LEFT_Y_MINOR, "<B>/B", -101, 316, 37, "italic",
             "normal", True, 0.219, [small_text("0", -97, 244, 19, angle=270)])

right = panel(right_black, right_red, RIGHT_Y_DOMAIN, RIGHT_Y_MINOR, "ℳ", -103, 322, 46, "normal",
              "bold", False, 0.114, [small_text("A", -96, 294, 20, angle=270)])

chart = alt.hconcat(left, right, spacing=166, bounds="flush").properties(
    padding={"left": 28, "top": 20, "right": 5, "bottom": 5}, background="white"
).configure_view(stroke="black", strokeWidth=2)

chart.save("out.html", embed_options={"renderer": "svg", "actions": False})
